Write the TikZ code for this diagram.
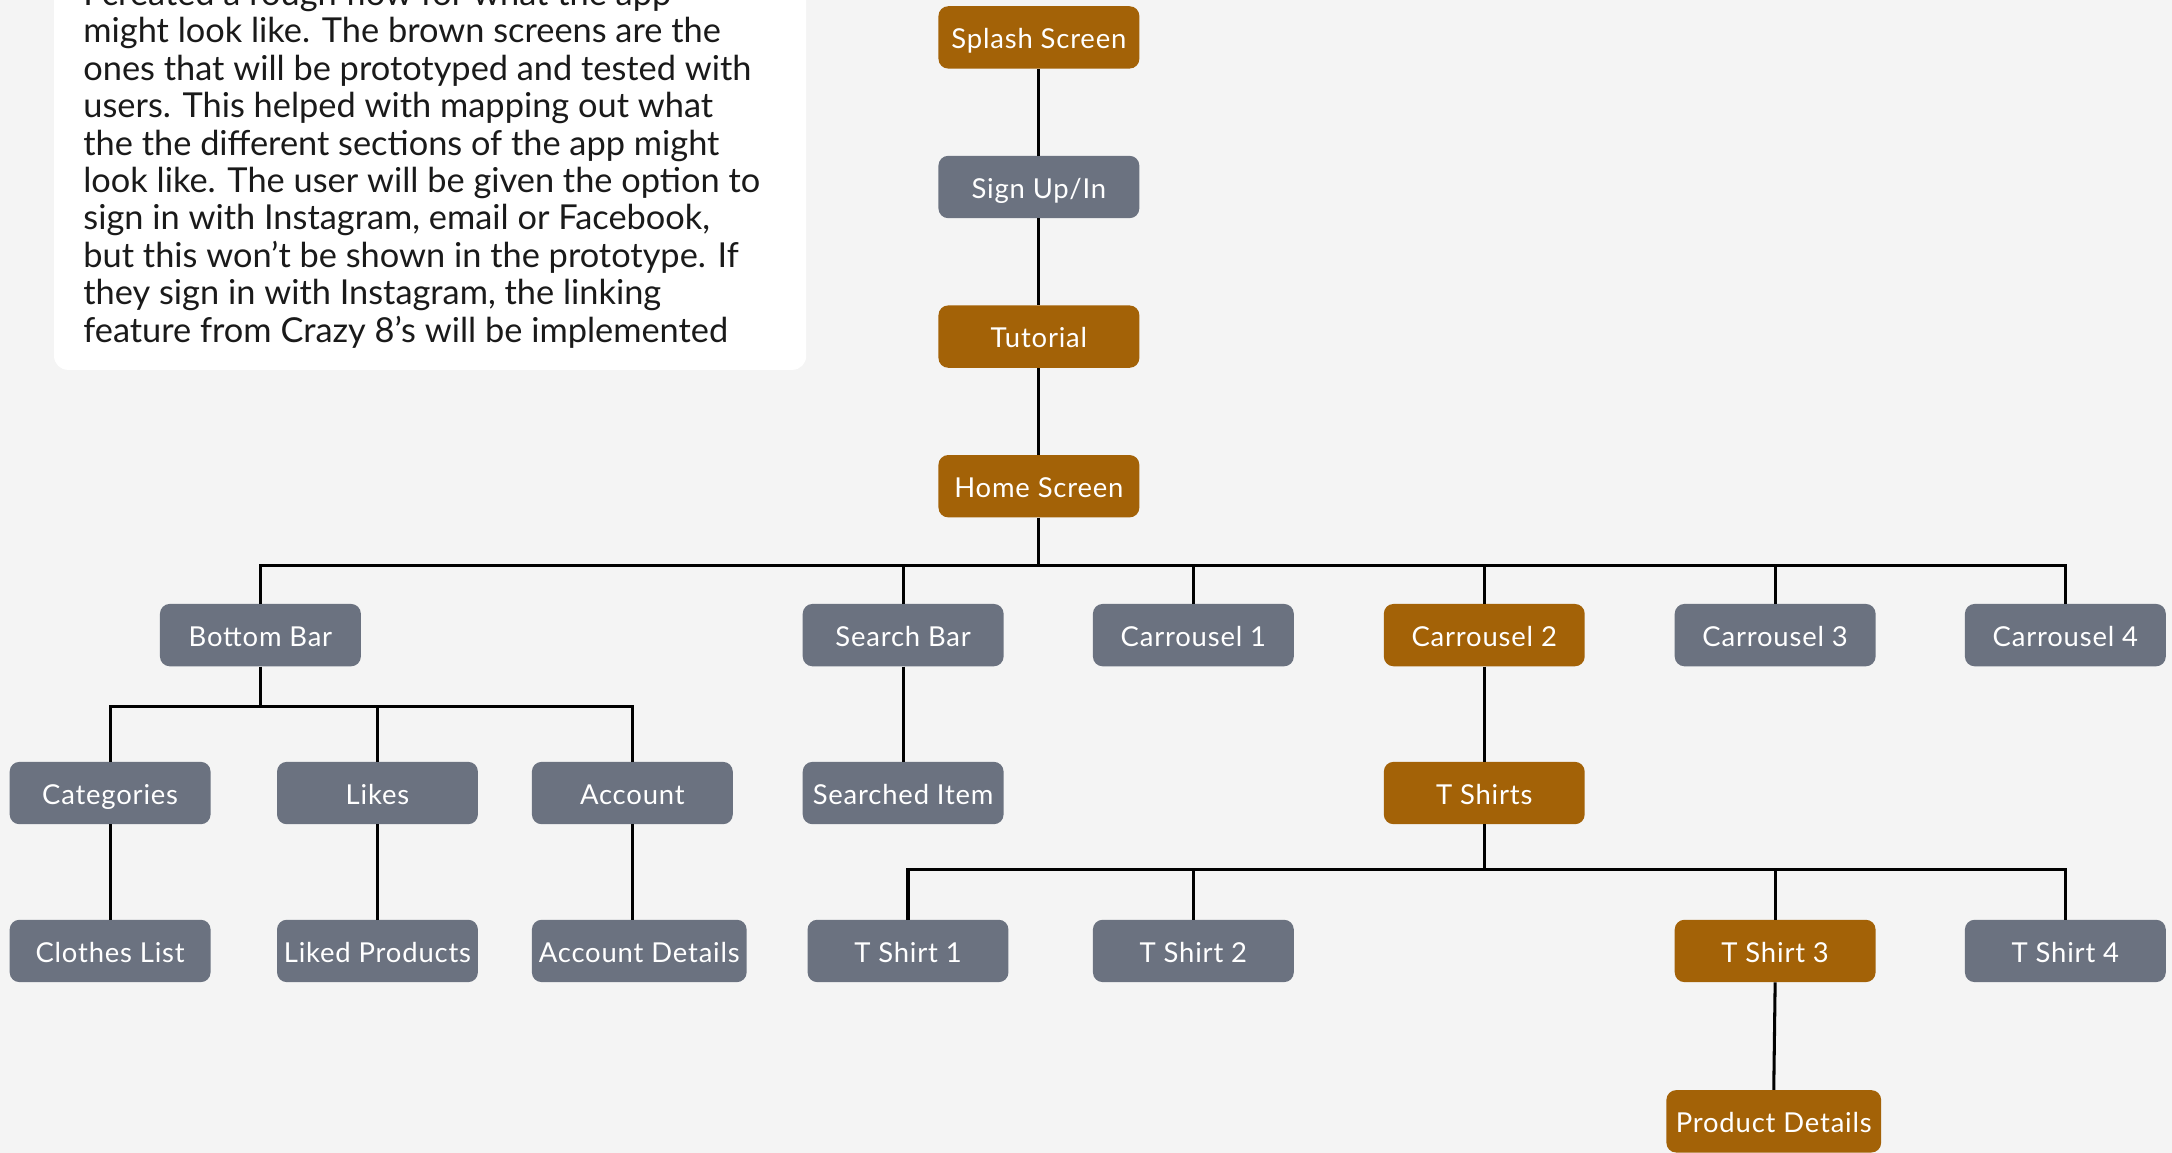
\documentclass[tikz,border=0pt]{standalone}
\usepackage{fontspec}
\setmainfont{Lato}
\newfontfamily\boxfont[LetterSpace=3]{Lato}
\definecolor{bgc}{HTML}{F4F4F4}
\definecolor{brownc}{HTML}{A36207}
\definecolor{slatec}{HTML}{6B7280}
\definecolor{txt}{HTML}{1A1A1A}
\tikzset{
  box/.style={rectangle, rounded corners=7pt, minimum width=145pt, minimum height=45pt,
    inner sep=0pt, text=white, text height=18pt, text depth=2pt,
    font=\boxfont\fontsize{19.8}{22}\selectfont},
  bbox/.style={box, fill=brownc},
  gbox/.style={box, fill=slatec},
  link/.style={line width=2.2pt, black},
  para/.style={anchor=base west, inner sep=0pt, text=txt, font=\fontsize{24.8}{27}\selectfont}
}
\begin{document}
\begin{tikzpicture}[x=1pt,y=-1pt]
\useasboundingbox (0,0) rectangle (1568,832);
\clip (0,0) rectangle (1568,832);
\fill[bgc] (0,0) rectangle (1568,832);
\fill[white, rounded corners=10pt] (39,-30) rectangle (582,267);
\node[para] (l1) at (60,4) {I created a rough flow for what the app};
\node[para] (l2) at (60,31) {might look like. The brown screens are the};
\node[para] (l3) at (60,58) {ones that will be prototyped and tested with};
\node[para] (l4) at (60,85) {users. This helped with mapping out what};
\node[para] (l5) at (60,112) {the the different sections of the app might};
\node[para] (l6) at (60,139) {look like. The user will be given the option to};
\node[para] (l7) at (60,166) {sign in with Instagram, email or Facebook,};
\node[para] (l8) at (60,193) {but this won’t be shown in the prototype. If};
\node[para] (l9) at (60,220) {they sign in with Instagram, the linking};
\node[para] (l10) at (60,247) {feature from Crazy 8’s will be implemented};

% column
\node[bbox] (splash) at (750,27) {Splash Screen};
\node[gbox] (sign) at (750,135) {Sign Up/In};
\node[bbox] (tut) at (750,243) {Tutorial};
\node[bbox] (home) at (750,351) {Home Screen};
% row 2
\node[gbox] (bb) at (188,458.5) {Bottom Bar};
\node[gbox] (sb) at (652,458.5) {Search Bar};
\node[gbox] (c1) at (861.5,458.5) {Carrousel 1};
\node[bbox] (c2) at (1071.5,458.5) {Carrousel 2};
\node[gbox] (c3) at (1281.5,458.5) {Carrousel 3};
\node[gbox] (c4) at (1491,458.5) {Carrousel 4};
% row 3
\node[gbox] (cat) at (79.5,572.5) {Categories};
\node[gbox] (likes) at (272.5,572.5) {Likes};
\node[gbox] (acc) at (456.5,572.5) {Account};
\node[gbox] (si) at (652,572.5) {Searched Item};
\node[bbox] (ts) at (1071.5,572.5) {T Shirts};
% row 4
\node[gbox] (cl) at (79.5,686.5) {Clothes List};
\node[gbox] (lp) at (272.5,686.5) {Liked Products};
\node[gbox, minimum width=155pt] (ad) at (461.5,686.5) {Account Details};
\node[gbox] (t1) at (655.5,686.5) {T Shirt 1};
\node[gbox] (t2) at (861.5,686.5) {T Shirt 2};
\node[bbox] (t3) at (1281.5,686.5) {T Shirt 3};
\node[gbox] (t4) at (1491,686.5) {T Shirt 4};
% row 5
\node[bbox, minimum width=155pt] (pd) at (1280.5,809.5) {Product Details};

\coordinate (hbar) at (0,408);
\coordinate (bbar) at (0,510);
\coordinate (tbar) at (0,628);

\draw[link] (splash.south) -- (sign.north);
\draw[link] (sign.south) -- (tut.north);
\draw[link] (tut.south) -- (home.north);
\draw[link] (home.south) -- (home.south |- hbar);
\draw[link] (bb.north) -- (bb.north |- hbar) -- (c4.north |- hbar) -- (c4.north);
\draw[link] (sb.north) -- (sb.north |- hbar);
\draw[link] (c1.north) -- (c1.north |- hbar);
\draw[link] (c2.north) -- (c2.north |- hbar);
\draw[link] (c3.north) -- (c3.north |- hbar);

\draw[link] (bb.south) -- (bb.south |- bbar);
\draw[link] (cat.north) -- (cat.north |- bbar) -- (acc.north |- bbar) -- (acc.north);
\draw[link] (likes.north) -- (likes.north |- bbar);
\draw[link] (cat.south) -- (cl.north);
\draw[link] (likes.south) -- (lp.north);
\draw[link] (acc.south) -- (acc.south |- ad.north);

\draw[link] (sb.south) -- (si.north);
\draw[link] (c2.south) -- (ts.north);

\draw[link] (ts.south) -- (ts.south |- tbar);
\draw[link] (t1.north) -- (t1.north |- tbar) -- (t4.north |- tbar) -- (t4.north);
\draw[link] (t2.north) -- (t2.north |- tbar);
\draw[link] (t3.north) -- (t3.north |- tbar);
\draw[link] (t3.south) -- (pd.north);
\end{tikzpicture}
\end{document}
